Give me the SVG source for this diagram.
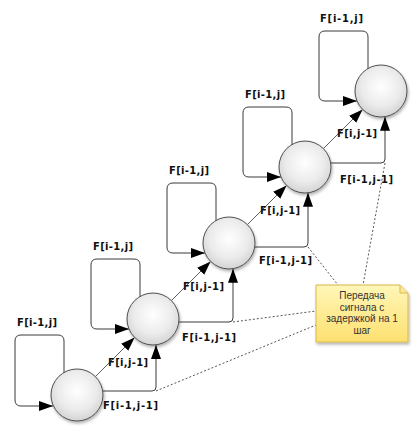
<svg xmlns="http://www.w3.org/2000/svg" width="420" height="431" viewBox="0 0 420 431">
  <style>
    .loop { fill: none; stroke: #3a3a3a; stroke-width: 1; }
    .diag { fill: none; stroke: #4a4a4a; stroke-width: 0.9; }
    .hz { fill: none; stroke: #3a3a3a; stroke-width: 1; }
    .dot { fill: none; stroke: #555; stroke-width: 1; stroke-dasharray: 2,2; }
    .lbl { font-family: "DejaVu Sans", Verdana, sans-serif; font-weight: bold; font-size: 10px; fill: #111; }
    .note-t { font-family: "Liberation Sans", Arial, sans-serif; font-size: 10px; fill: #333; text-anchor: middle; }
    .node { fill: url(#cg); stroke: #505050; stroke-width: 1; filter: url(#sh); }
  </style>
  <defs>
    <radialGradient id="cg" cx="50%" cy="42%" r="62%">
      <stop offset="0" stop-color="#ffffff"/>
      <stop offset="0.6" stop-color="#ebebeb"/>
      <stop offset="1" stop-color="#cfcfcf"/>
    </radialGradient>
    <linearGradient id="ng" x1="0" y1="0" x2="0" y2="1">
      <stop offset="0" stop-color="#fff6b8"/>
      <stop offset="1" stop-color="#fde070"/>
    </linearGradient>
    <filter id="sh" x="-30%" y="-30%" width="160%" height="160%">
      <feDropShadow dx="1" dy="2" stdDeviation="1.6" flood-color="#000" flood-opacity="0.3"/>
    </filter>
    <marker id="ah" markerUnits="userSpaceOnUse" markerWidth="15" markerHeight="11" refX="14" refY="5" orient="auto">
      <path d="M0,0 L14,5 L0,10 Z" fill="#000"/>
    </marker>
  </defs>

  <g id="connectors">
    <!-- self loops F[i-1,j] -->
    <path class="loop" marker-end="url(#ah)" d="M64,373 V341 Q64,335 58,335 H21 Q15,335 15,341 V400 Q15,406 21,406 H53"/>
    <path class="loop" marker-end="url(#ah)" d="M140,297 V265 Q140,259 134,259 H97 Q91,259 91,265 V323 Q91,329 97,329 H129"/>
    <path class="loop" marker-end="url(#ah)" d="M216,221 V189 Q216,183 210,183 H173 Q167,183 167,189 V247 Q167,253 173,253 H205"/>
    <path class="loop" marker-end="url(#ah)" d="M292,145 V113 Q292,107 286,107 H249 Q243,107 243,113 V171 Q243,177 249,177 H281"/>
    <path class="loop" marker-end="url(#ah)" d="M368,69 V37 Q368,31 362,31 H325 Q319,31 319,37 V95 Q319,101 325,101 H357"/>
    <!-- diagonal F[i,j-1] -->
    <path class="diag" marker-end="url(#ah)" d="M95.4,376.6 L134.6,337.4"/>
    <path class="diag" marker-end="url(#ah)" d="M171.4,300.6 L210.6,261.4"/>
    <path class="diag" marker-end="url(#ah)" d="M247.4,224.6 L286.6,185.4"/>
    <path class="diag" marker-end="url(#ah)" d="M323.4,148.6 L362.6,109.4"/>
    <!-- delayed F[i-1,j-1] -->
    <path class="hz" marker-end="url(#ah)" d="M102.7,391 H152 Q156,391 156,387 V345"/>
    <path class="hz" marker-end="url(#ah)" d="M178.8,322 H229 Q233,322 233,318 V268.7"/>
    <path class="hz" marker-end="url(#ah)" d="M254.7,247 H304 Q308,247 308,243 V192.8"/>
    <path class="hz" marker-end="url(#ah)" d="M330.7,163 H381 Q385,163 385,159 V116.7"/>
    <!-- note links -->
    <path class="dot" d="M156,391 L316,325"/>
    <path class="dot" d="M233,322 L316,311"/>
    <path class="dot" d="M308,247 L338,285"/>
    <path class="dot" d="M385,163 L363,285"/>
    <!-- labels -->
    <text class="lbl" x="17" y="326" textLength="40" lengthAdjust="spacing">F[i-1,j]</text>
    <text class="lbl" x="93" y="250" textLength="40" lengthAdjust="spacing">F[i-1,j]</text>
    <text class="lbl" x="169" y="174" textLength="40" lengthAdjust="spacing">F[i-1,j]</text>
    <text class="lbl" x="245" y="98" textLength="40" lengthAdjust="spacing">F[i-1,j]</text>
    <text class="lbl" x="320" y="22" textLength="43" lengthAdjust="spacing">F[i-1,j]</text>
    <text class="lbl" x="108" y="366" textLength="40" lengthAdjust="spacing">F[i,j-1]</text>
    <text class="lbl" x="183" y="290" textLength="41" lengthAdjust="spacing">F[i,j-1]</text>
    <text class="lbl" x="260" y="214" textLength="40" lengthAdjust="spacing">F[i,j-1]</text>
    <text class="lbl" x="337" y="137" textLength="40" lengthAdjust="spacing">F[i,j-1]</text>
    <text class="lbl" x="103" y="409" textLength="55" lengthAdjust="spacing">F[i-1,j-1]</text>
    <text class="lbl" x="182" y="341" textLength="54" lengthAdjust="spacing">F[i-1,j-1]</text>
    <text class="lbl" x="259" y="264" textLength="53" lengthAdjust="spacing">F[i-1,j-1]</text>
    <text class="lbl" x="340" y="183" textLength="53" lengthAdjust="spacing">F[i-1,j-1]</text>
  </g>

  <g id="node1"><circle class="node" cx="77" cy="395" r="26"/></g>
  <g id="node2"><circle class="node" cx="153" cy="319" r="26"/></g>
  <g id="node3"><circle class="node" cx="229" cy="243" r="26"/></g>
  <g id="node4"><circle class="node" cx="305" cy="167" r="26"/></g>
  <g id="node5"><circle class="node" cx="381" cy="91" r="26"/></g>

  <g id="note">
    <path d="M316,285 H400 L408,293 V342 H316 Z" fill="url(#ng)" stroke="#d9b84a" stroke-width="1" filter="url(#sh)"/>
    <path d="M400,285 V293 H408" fill="#fbe9a0" stroke="#d9b84a" stroke-width="1"/>
    <text class="note-t" x="362" y="299">Передача</text>
    <text class="note-t" x="362" y="310.6">сигнала с</text>
    <text class="note-t" x="362" y="322.2">задержкой на 1</text>
    <text class="note-t" x="362" y="333.8">шаг</text>
  </g>
</svg>
